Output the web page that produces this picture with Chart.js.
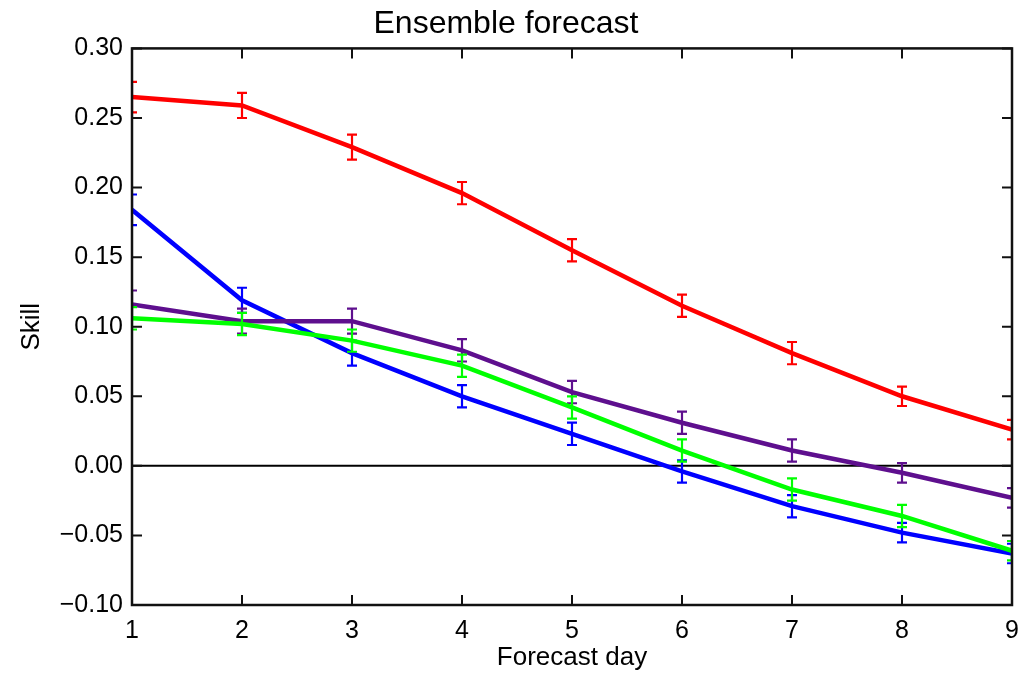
<!DOCTYPE html>
<html>
<head>
<meta charset="utf-8">
<script src="https://cdn.jsdelivr.net/npm/chart.js@4"></script>
<style>
  html, body { margin: 0; padding: 0; background: #fff; }
  #wrap { width: 1027px; height: 673px; }
</style>
</head>
<body>
<div id="wrap"><canvas id="chart" width="1027" height="673"></canvas></div>
<script>
// Forecast days
const days = [1, 2, 3, 4, 5, 6, 7, 8, 9];

// Skill per series
const redSkill    = [0.265, 0.259, 0.229, 0.196, 0.155, 0.115, 0.081, 0.050, 0.026];
const blueSkill   = [0.184, 0.119, 0.081, 0.050, 0.023, -0.004, -0.029, -0.048, -0.063];
const greenSkill  = [0.106, 0.102, 0.090, 0.072, 0.042, 0.011, -0.017, -0.036, -0.061];
const purpleSkill = [0.116, 0.104, 0.104, 0.083, 0.053, 0.031, 0.011, -0.005, -0.023];

// Half-length of the error bars
const redErr    = [0.011, 0.009, 0.009, 0.008, 0.008, 0.008, 0.008, 0.007, 0.007];
const blueErr   = [0.011, 0.009, 0.009, 0.008, 0.008, 0.008, 0.008, 0.007, 0.007];
const greenErr  = [0.008, 0.008, 0.008, 0.008, 0.008, 0.008, 0.008, 0.008, 0.007];
const purpleErr = [0.010, 0.009, 0.009, 0.008, 0.008, 0.008, 0.008, 0.007, 0.007];

const yTicks = [-0.10, -0.05, 0.00, 0.05, 0.10, 0.15, 0.20, 0.25, 0.30];

const FONT = "'Liberation Sans', Arial, sans-serif";

function pts(vals) {
  return days.map((d, i) => ({ x: d, y: vals[i] }));
}

function fmt(v) {
  if (Math.abs(v) < 1e-9) v = 0;
  const s = Math.abs(v).toFixed(2);
  return v < 0 ? '\u2212' + s : s;
}

// Frame, inward ticks and zero line
const framePlugin = {
  id: 'frame',
  beforeDatasetsDraw(chart) {
    const { ctx, chartArea: a, scales } = chart;
    const y0 = scales.y.getPixelForValue(0);
    ctx.save();
    ctx.strokeStyle = '#000';
    ctx.lineWidth = 2;
    ctx.beginPath();
    ctx.moveTo(a.left, y0);
    ctx.lineTo(a.right, y0);
    ctx.stroke();
    ctx.restore();
  },
  afterDatasetsDraw(chart) {
    const { ctx, chartArea: a, scales } = chart;
    ctx.save();
    ctx.strokeStyle = '#111';
    ctx.lineWidth = 2.5;
    ctx.strokeRect(a.left, a.top, a.right - a.left, a.bottom - a.top);
    ctx.lineWidth = 2;
    const len = 10;
    ctx.beginPath();
    days.forEach(d => {
      const x = scales.x.getPixelForValue(d);
      ctx.moveTo(x, a.bottom); ctx.lineTo(x, a.bottom - len);
      ctx.moveTo(x, a.top); ctx.lineTo(x, a.top + len);
    });
    yTicks.forEach(v => {
      const y = scales.y.getPixelForValue(v);
      ctx.moveTo(a.left, y); ctx.lineTo(a.left + len, y);
      ctx.moveTo(a.right, y); ctx.lineTo(a.right - len, y);
    });
    ctx.stroke();
    ctx.restore();
  }
};

// Error bars drawn from each dataset's err array
const errorBarPlugin = {
  id: 'errorBars',
  afterDatasetDraw(chart, args) {
    const { ctx, chartArea: a, scales } = chart;
    const ds = chart.data.datasets[args.index];
    if (!ds.err) return;
    ctx.save();
    ctx.beginPath();
    ctx.rect(a.left, a.top, a.right - a.left, a.bottom - a.top);
    ctx.clip();
    ctx.strokeStyle = ds.borderColor;
    ctx.lineWidth = 2.2;
    const cap = 5;
    ds.data.forEach((p, i) => {
      const x = scales.x.getPixelForValue(p.x);
      const yt = scales.y.getPixelForValue(p.y + ds.err[i]);
      const yb = scales.y.getPixelForValue(p.y - ds.err[i]);
      ctx.beginPath();
      ctx.moveTo(x, yt); ctx.lineTo(x, yb);
      ctx.moveTo(x - cap, yt); ctx.lineTo(x + cap, yt);
      ctx.moveTo(x - cap, yb); ctx.lineTo(x + cap, yb);
      ctx.stroke();
    });
    ctx.restore();
  }
};

function series(label, vals, err, color) {
  return {
    label: label,
    data: pts(vals),
    err: err,
    borderColor: color,
    backgroundColor: color,
    borderWidth: 4.5,
    pointRadius: 0,
    tension: 0,
    clip: 0
  };
}

new Chart(document.getElementById('chart'), {
  type: 'line',
  data: {
    datasets: [
      series('Red', redSkill, redErr, '#ff0000'),
      series('Green', greenSkill, greenErr, '#00ff00'),
      series('Purple', purpleSkill, purpleErr, '#5e0f8e'),
      series('Blue', blueSkill, blueErr, '#0000ff')
    ]
  },
  options: {
    responsive: false,
    animation: false,
    layout: { padding: { left: 0, right: 15, top: 0, bottom: 0 } },
    plugins: {
      legend: { display: false },
      tooltip: { enabled: false },
      title: {
        display: true,
        text: 'Ensemble forecast',
        color: '#000',
        font: { family: FONT, size: 32, weight: 'normal' },
        padding: { top: 5, bottom: 5 }
      }
    },
    scales: {
      x: {
        type: 'linear',
        min: 1,
        max: 9,
        afterFit(scale) {
          scale.height = 68;
          scale.paddingLeft = 0;
          scale.paddingRight = 0;
        },
        afterBuildTicks(scale) { scale.ticks = days.map(v => ({ value: v })); },
        grid: { display: false, drawTicks: false },
        border: { display: false },
        ticks: {
          color: '#000',
          padding: 11,
          maxRotation: 0,
          font: { family: FONT, size: 25 },
          callback: v => String(v)
        },
        title: {
          display: true,
          text: 'Forecast day',
          color: '#000',
          font: { family: FONT, size: 26 },
          padding: { top: 0, bottom: 0 }
        }
      },
      y: {
        min: -0.10,
        max: 0.30,
        afterFit(scale) {
          scale.width = 132;
          scale.paddingTop = 0;
          scale.paddingBottom = 0;
        },
        afterBuildTicks(scale) { scale.ticks = yTicks.map(v => ({ value: v })); },
        grid: { display: false, drawTicks: false },
        border: { display: false },
        ticks: {
          color: '#000',
          padding: 9,
          font: { family: FONT, size: 25 },
          callback: v => fmt(v)
        },
        title: {
          display: true,
          text: 'Skill',
          color: '#000',
          font: { family: FONT, size: 26 },
          padding: { top: 16, bottom: 0 }
        }
      }
    }
  },
  plugins: [framePlugin, errorBarPlugin]
});
</script>
</body>
</html>
